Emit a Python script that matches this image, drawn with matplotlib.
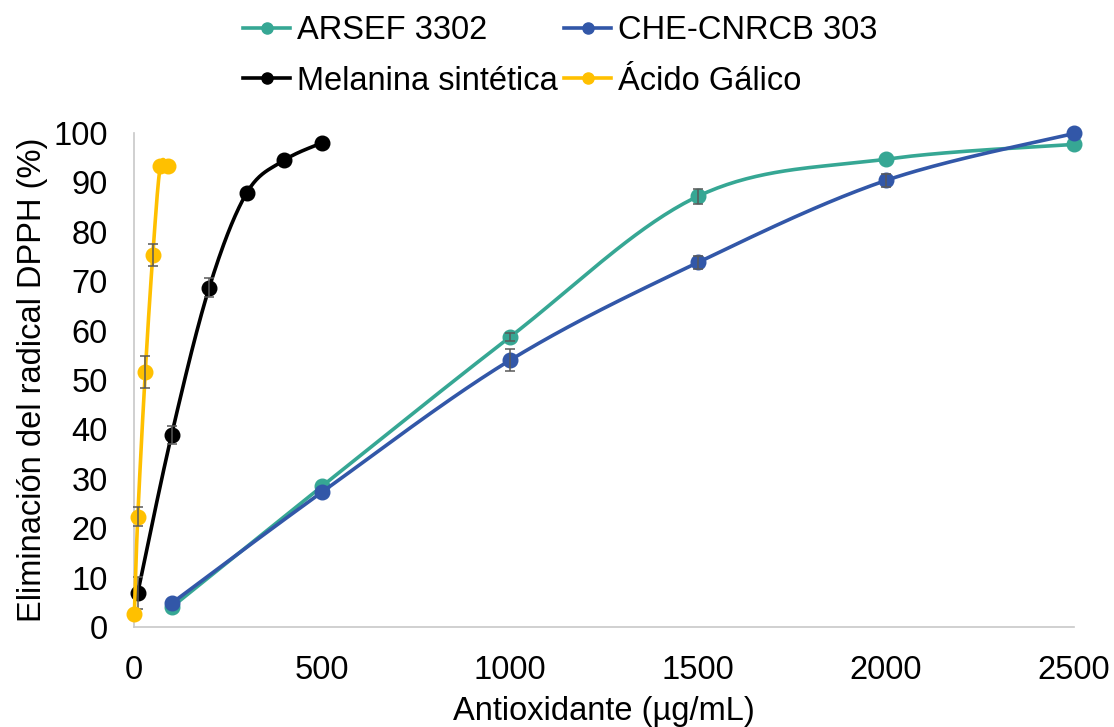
import matplotlib.pyplot as plt
import numpy as np
from matplotlib.lines import Line2D

# series (x in ug/mL, y in % DPPH removal); nan = no visible error bar
arsef_x = [100, 500, 1000, 1500, 2000, 2500]
arsef_y = [4.0, 28.5, 58.7, 87.2, 94.7, 97.7]
arsef_err = [np.nan, np.nan, 0.8, 1.5, np.nan, np.nan]

che_x = [100, 500, 1000, 1500, 2000, 2500]
che_y = [4.8, 27.3, 54.0, 73.8, 90.4, 99.9]
che_err = [np.nan, np.nan, 2.2, 1.4, 1.4, np.nan]

mel_x = [10, 100, 200, 300, 400, 500]
mel_y = [6.9, 38.9, 68.7, 87.9, 94.5, 98.0]
mel_err = [3.2, 1.8, 1.9, np.nan, np.nan, np.nan]

gal_x = [1, 10, 30, 50, 70, 90]
gal_y = [2.6, 22.3, 51.6, 75.3, 93.3, 93.3]
gal_err = [np.nan, 1.9, 3.2, 2.2, np.nan, np.nan]

labels = ['ARSEF 3302', 'CHE-CNRCB 303', 'Melanina sintética', 'Ácido Gálico']
colors = ['#36A794', '#3257A8', '#000000', '#FFC000']

plt.rcParams['font.family'] = ['Liberation Sans', 'DejaVu Sans']
fs = 23.5

W, H = 1114, 727
fig = plt.figure(figsize=(W / 100, H / 100), dpi=100)
ax = fig.add_axes([134 / W, 1 - 627 / H, 940 / W, 494 / H])
ax.set_xlim(0, 2500)
ax.set_ylim(0, 100)

# scale to pixels so the smoothing is done in screen space, like excel
sx, sy = 940 / 2500, 494 / 100


def smooth(x, y, n=40):
    p = np.column_stack([np.array(x) * sx, np.array(y) * sy])
    p = np.vstack([p[0], p, p[-1]])
    out = []
    t = np.linspace(0, 1, n)[:, None]
    for i in range(1, len(p) - 2):
        p0, p1, p2, p3 = p[i - 1], p[i], p[i + 1], p[i + 2]
        c1 = p1 + (p2 - p0) / 6
        c2 = p2 - (p3 - p1) / 6
        seg = ((1 - t) ** 3) * p1 + 3 * ((1 - t) ** 2) * t * c1 + 3 * (1 - t) * t ** 2 * c2 + t ** 3 * p2
        out.append(seg)
    out = np.vstack(out)
    return out[:, 0] / sx, out[:, 1] / sy


series = [(arsef_x, arsef_y, arsef_err), (che_x, che_y, che_err),
          (mel_x, mel_y, mel_err), (gal_x, gal_y, gal_err)]
z = 3
for (x, y, e), c in zip(series, colors):
    cx, cy = smooth(x, y)
    ax.plot(cx, cy, color=c, lw=2.6, zorder=z, clip_on=False, solid_capstyle='round')
    ax.plot(x, y, 'o', color=c, ms=10.5, zorder=z, clip_on=False)
    ax.errorbar(x, y, yerr=e, fmt='none', ecolor='#595959', elinewidth=1.1,
                capsize=3.5, capthick=1.1, zorder=z + 0.5, clip_on=False)
    z += 1

for s in ['top', 'right']:
    ax.spines[s].set_visible(False)
for s in ['left', 'bottom']:
    ax.spines[s].set_color('#C8C8C8')
    ax.spines[s].set_linewidth(1.2)

ax.set_xticks([0, 500, 1000, 1500, 2000, 2500])
ax.set_yticks(np.arange(0, 101, 10))
ax.tick_params(length=0, labelsize=fs, pad=20, colors='black')
ax.tick_params(axis='y', pad=19)

ax.set_xlabel('Antioxidante (µg/mL)', fontsize=fs)
ax.set_ylabel('Eliminación del radical DPPH (%)', fontsize=fs)
ax.xaxis.set_label_coords(0.5, (627 - 696) / 494)
ax.yaxis.set_label_coords((48 - 134) / 940, 0.5)

# legend fills by column, so reorder to get two rows like the original
handles = [Line2D([], [], color=c, lw=2.6, marker='o', ms=8) for c in colors]
order = [0, 2, 1, 3]
fig.legend([handles[i] for i in order], [labels[i] for i in order],
           loc='upper left', bbox_to_anchor=(243 / W, 1 - 15 / H),
           ncol=2, frameon=False, fontsize=fs, borderpad=0, borderaxespad=0,
           handlelength=1.45, handletextpad=0.2, columnspacing=0.2, labelspacing=0.6)

fig.savefig('out.png', dpi=100)
